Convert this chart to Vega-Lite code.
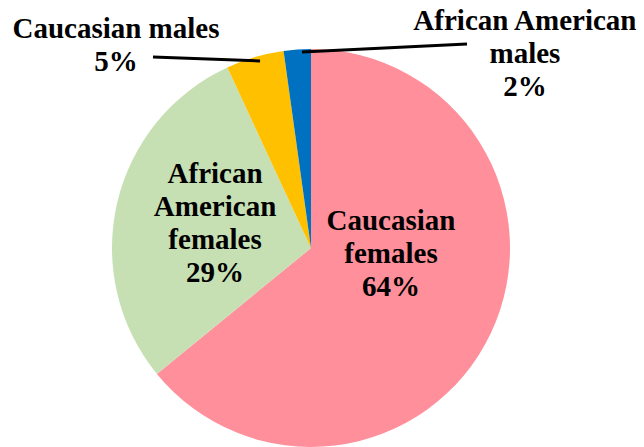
{
  "$schema": "https://vega.github.io/schema/vega-lite/v6.json",
  "width": 644,
  "height": 496,
  "padding": 0,
  "autosize": {"type": "none"},
  "background": "white",
  "config": {"view": {"stroke": null}},
  "layer": [
    {
      "data": {"values": [
        {"group": "Caucasian females", "value": 64.1, "ord": 1},
        {"group": "African American females", "value": 29.0, "ord": 2},
        {"group": "Caucasian males", "value": 4.7, "ord": 3},
        {"group": "African American males", "value": 2.2, "ord": 4}
      ]},
      "mark": {"type": "arc", "outerRadius": 199},
      "encoding": {
        "x": {"datum": 0, "type": "quantitative", "scale": {"domain": [-1.5628, 1.6734], "nice": false, "zero": false}, "axis": null},
        "y": {"datum": 0, "type": "quantitative", "scale": {"domain": [-1.2462, 1.2462], "nice": false, "zero": false}, "axis": null},
        "theta": {"field": "value", "type": "quantitative", "stack": true},
        "order": {"field": "ord", "type": "quantitative"},
        "color": {
          "field": "group", "type": "nominal", "legend": null,
          "scale": {
            "domain": ["Caucasian females", "African American females", "Caucasian males", "African American males"],
            "range": ["#FF8F9A", "#C6E0B4", "#FFC000", "#0070C0"]
          }
        }
      }
    },
    {
      "data": {"values": [
        {"x1": -0.794, "y1": 0.960, "x2": -0.256, "y2": 0.940},
        {"x1": -0.045, "y1": 0.985, "x2": 0.784, "y2": 1.025}
      ]},
      "mark": {"type": "rule", "color": "black", "strokeWidth": 3},
      "encoding": {
        "x": {"field": "x1", "type": "quantitative", "scale": {"domain": [-1.5628, 1.6734], "nice": false, "zero": false}, "axis": null},
        "y": {"field": "y1", "type": "quantitative", "scale": {"domain": [-1.2462, 1.2462], "nice": false, "zero": false}, "axis": null},
        "x2": {"field": "x2"},
        "y2": {"field": "y2"}
      }
    },
    {
      "data": {"values": [
        {"label": "Caucasian\nfemales\n64%", "lx": 0.402, "ly": 0.0905},
        {"label": "African\nAmerican\nfemales\n29%", "lx": -0.482, "ly": 0.327},
        {"label": "Caucasian males\n5%", "lx": -0.980, "ly": 1.055},
        {"label": "African American\nmales\n2%", "lx": 1.075, "ly": 1.095}
      ]},
      "mark": {
        "type": "text",
        "font": "Liberation Serif",
        "fontWeight": "bold",
        "fontSize": 29,
        "lineBreak": "\n",
        "lineHeight": 33,
        "align": "center",
        "baseline": "alphabetic",
        "color": "black"
      },
      "encoding": {
        "x": {"field": "lx", "type": "quantitative", "scale": {"domain": [-1.5628, 1.6734], "nice": false, "zero": false}, "axis": null},
        "y": {"field": "ly", "type": "quantitative", "scale": {"domain": [-1.2462, 1.2462], "nice": false, "zero": false}, "axis": null},
        "text": {"field": "label"}
      }
    }
  ]
}
